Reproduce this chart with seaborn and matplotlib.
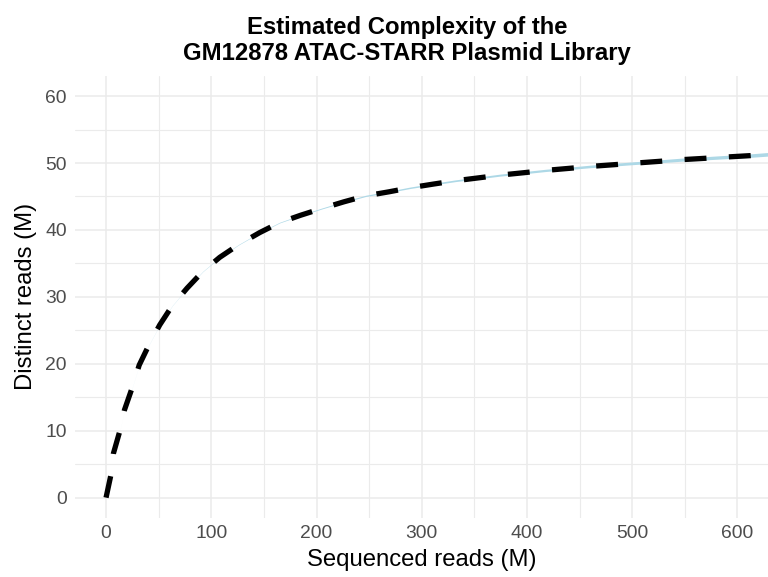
import matplotlib
matplotlib.use("Agg")
import matplotlib.pyplot as plt
import seaborn as sns
import numpy as np
import pandas as pd

# Data (millions of reads)
seq_reads = [0, 4.5, 7, 13, 17.5, 25, 31.5, 41, 51, 63, 77, 92, 108, 126, 146, 165,
             185, 205, 226, 247, 269, 289, 311, 332, 355, 375, 397, 418, 440, 461,
             483, 504, 526, 547, 569, 590, 612, 629, 650]
distinct_reads = [0, 3.3, 6.6, 9.9, 13.1, 16.5, 19.8, 22.9, 25.8, 28.7, 31.3, 33.8, 35.9,
                  37.8, 39.6, 41.1, 42.2, 43.2, 44.2, 45.1, 45.7, 46.3, 46.85, 47.35,
                  47.8, 48.2, 48.55, 48.9, 49.2, 49.5, 49.75, 50.0, 50.25, 50.5, 50.7,
                  50.9, 51.1, 51.3, 51.45]
ci_halfwidth = [0, 0, 0, 0.005, 0.005, 0.01, 0.01, 0.015, 0.02, 0.02, 0.025, 0.03, 0.035,
                0.04, 0.045, 0.05, 0.06, 0.07, 0.08, 0.09, 0.1, 0.11, 0.12, 0.13, 0.14,
                0.15, 0.16, 0.17, 0.18, 0.19, 0.2, 0.21, 0.22, 0.23, 0.24, 0.25, 0.26,
                0.27, 0.28]

x_ticks = [0, 100, 200, 300, 400, 500, 600]
y_ticks = [0, 10, 20, 30, 40, 50, 60]

title = "Estimated Complexity of the\nGM12878 ATAC-STARR Plasmid Library"
x_label = "Sequenced reads (M)"
y_label = "Distinct reads (M)"

df = pd.DataFrame({"x": seq_reads, "y": distinct_reads, "hw": ci_halfwidth})
df["lo"] = df["y"] - df["hw"]
df["hi"] = df["y"] + df["hw"]

sns.set_theme(style="white")
plt.rcParams["font.family"] = ["Liberation Sans", "DejaVu Sans"]
plt.rcParams["text.color"] = "black"

fig = plt.figure(figsize=(7.68, 5.77), dpi=100)
ax = fig.add_axes([75 / 768, 1 - 517.7 / 577, 1 - 75 / 768, (517.7 - 76) / 577])

ax.fill_between(df["x"], df["lo"], df["hi"], color="#ADD8E6", linewidth=0,
                zorder=2)
sns.lineplot(data=df, x="x", y="y", ax=ax, color="black", linewidth=3.8,
             zorder=3, estimator=None, sort=False)
line = ax.lines[-1]
line.set_dashes((4.15, 4.25))
line.set_dash_capstyle("butt")

ax.set_xlim(-29.5, 629)
ax.set_ylim(-3, 63)
ax.set_xticks(x_ticks)
ax.set_yticks(y_ticks)
ax.set_xticks([50, 150, 250, 350, 450, 550], minor=True)
ax.set_yticks([5, 15, 25, 35, 45, 55], minor=True)

ax.grid(which="major", color="#EBEBEB", linewidth=1.1, zorder=0)
ax.grid(which="minor", color="#EBEBEB", linewidth=0.8, zorder=0)
ax.set_axisbelow(True)
for s in ax.spines.values():
    s.set_visible(False)

ax.tick_params(axis="both", which="both", length=0, labelsize=13.9, colors="#4D4D4D")
ax.tick_params(axis="x", pad=5)
ax.tick_params(axis="y", pad=6)
ax.set_xlabel(x_label, fontsize=17.2, color="black", labelpad=5)
ax.set_ylabel(y_label, fontsize=17.2, color="black", labelpad=6)

fig.text(407 / 768, 1 - 60 / 577, title, ha="center", va="baseline",
         fontsize=17.2, fontweight="bold", linespacing=1.19, color="black")

fig.savefig("out.png", dpi=100)
